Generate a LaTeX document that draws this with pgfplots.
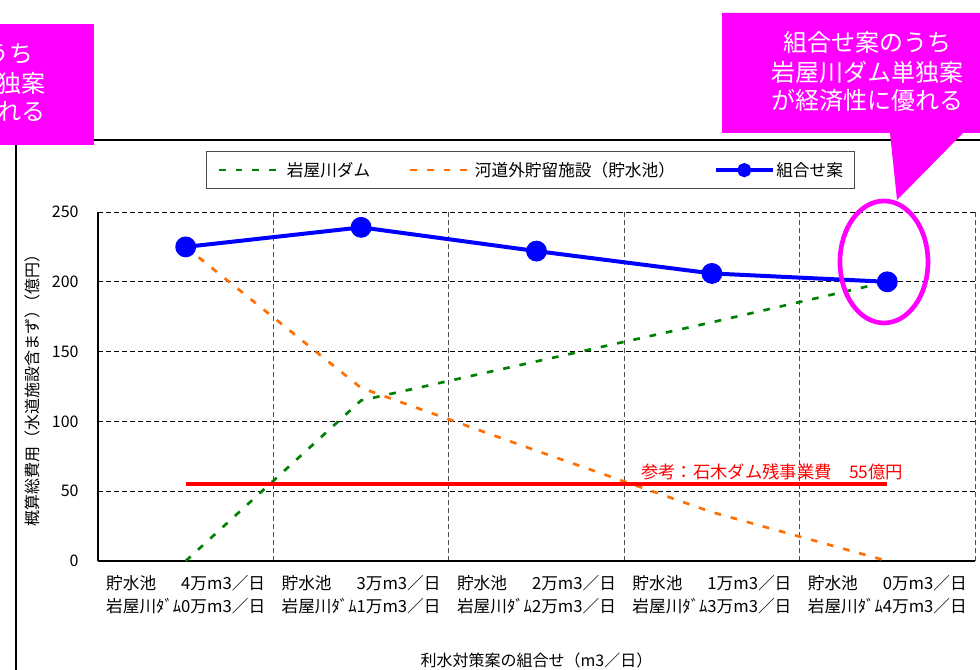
\documentclass[border=0pt]{standalone}
\usepackage{fontspec}
\setmainfont{Noto Sans CJK JP}
\usepackage{pgfplots}
\pgfplotsset{compat=1.18}
\definecolor{mgreen}{RGB}{0,128,0}
\definecolor{morange}{RGB}{255,110,0}
\definecolor{mblue}{RGB}{0,0,255}
\definecolor{mred}{RGB}{255,0,0}
\definecolor{mmag}{RGB}{255,0,255}
\pgfplotsset{
  legA/.style={legend image code/.code={\draw[##1] (0pt,0pt) -- (49pt,0pt);}},
  legB/.style={legend image code/.code={\draw[##1] (0pt,0pt) -- (46.5pt,0pt);}},
  legC/.style={legend image code/.code={\draw[##1, mark repeat=2, mark phase=2, every mark/.append style={scale=0.6}] plot coordinates {(0pt,0pt) (21.5pt,0pt) (43pt,0pt)};}},
}
\newsavebox\lbbox
\newcommand\xl[2]{\sbox\lbbox{岩屋川ﾀﾞﾑ#2万m3／日}\begin{tabular}{@{}l@{}}\makebox[\wd\lbbox][s]{貯水池\hfill#1万m3／日}\\\usebox\lbbox\end{tabular}}
\begin{document}
\begin{tikzpicture}[x=0.75pt,y=0.75pt]
\useasboundingbox (0,0) rectangle (980,669);
\clip (0,0) rectangle (980,669);
\fill[white] (0,0) rectangle (980,669);
\draw[black, line width=0.8pt] (16,-5) -- (16,529) -- (990,529);
\begin{axis}[
  at={(73.5pt,81pt)}, anchor=south west,
  width=657.75pt, height=261.75pt, scale only axis,
  xmin=-0.5, xmax=4.5, ymin=0, ymax=250,
  clip=false,
  axis x line*=bottom, axis y line*=left,
  axis line style={line width=1.2pt, black},
  xtick={0,1,2,3,4},
  xticklabels={{\xl{4}{0}},{\xl{3}{1}},{\xl{2}{2}},{\xl{1}{3}},{\xl{0}{4}}},
  xticklabel style={font=\fontsize{12.5}{17.25}\selectfont, anchor=north, yshift=-6pt},
  minor xtick={0.5,1.5,2.5,3.5,4.5},
  xminorgrids=true,
  ytick={0,50,...,250},
  ymajorgrids=true,
  yticklabel style={font=\fontsize{12}{14}\selectfont, xshift=-11pt},
  /pgf/number format/assume math mode=true,
  major grid style={black, dash pattern=on 3.5pt off 2.5pt, line width=0.75pt},
  minor grid style={black!70, dash pattern=on 3.5pt off 2.5pt, line width=0.75pt},
  major tick length=0pt, minor tick length=0pt,
  tick style={draw=none},
  xlabel={利水対策案の組合せ（m3／日）},
  xlabel style={at={(axis description cs:0.5,-0.284)}, anchor=center, font=\fontsize{12}{14}\selectfont},
  ylabel={概算総費用（水道施設含まず）\kern-0.45em（億円）},
  ylabel style={at={(axis description cs:-0.0753,0.5)}, anchor=center, font=\fontsize{12}{14}\selectfont},
  legend columns=3,
  legend cell align=left,
  legend style={at={(0.4937,1.12)}, anchor=center, draw=black!70, line width=0.75pt,
    font=\fontsize{12.5}{14}\selectfont, inner xsep=8pt, inner ysep=6pt,
    nodes={inner xsep=1pt},
    /tikz/every even column/.append style={column sep=28pt}},
]
\addplot[mgreen, line width=2pt, dash pattern=on 5pt off 7.5pt, legA]
  coordinates {(0,0) (1,115) (2,143) (3,171) (4,200)};
\addlegendentry{岩屋川ダム}
\addplot[morange, line width=2pt, dash pattern=on 5pt off 7.5pt, legB]
  coordinates {(0,225) (1,124) (2,79) (3,35) (4,0)};
\addlegendentry{河道外貯留施設（貯水池）}
\addplot[mblue, line width=3pt, mark=*, mark size=6.3pt, mark options={solid, fill=mblue}, legC]
  coordinates {(0,225) (1,239) (2,222) (3,206) (4,200)};
\addlegendentry{組合せ案\hspace{10pt}}
\addplot[mred, line width=3pt, forget plot] coordinates {(0,55) (4,55)};
\node[text=mred, font=\fontsize{13}{15}\selectfont] at (axis cs:3.343,64) {参考：石木ダム残事業費　55億円};
\draw[mmag, line width=3.5pt] (axis cs:3.981,214.2) ellipse [x radius=33pt, y radius=45.75pt];
\end{axis}
\fill[mmag] (722,656) -- (1012,656) -- (1012,536) -- (963,536) -- (897,469) -- (890,536) -- (722,536) -- cycle;
\node[text=white, align=center, font=\fontsize{18}{21.75}\selectfont] at (867,597) {組合せ案のうち\\岩屋川ダム単独案\\が経済性に優れる};
\fill[mmag] (-194,645) rectangle (94,524);
\node[text=white, align=center, font=\fontsize{18}{21.75}\selectfont] at (-50,586) {組合せ案のうち\\岩屋川ダム単独案\\が経済性に優れる};
\end{tikzpicture}
\end{document}
